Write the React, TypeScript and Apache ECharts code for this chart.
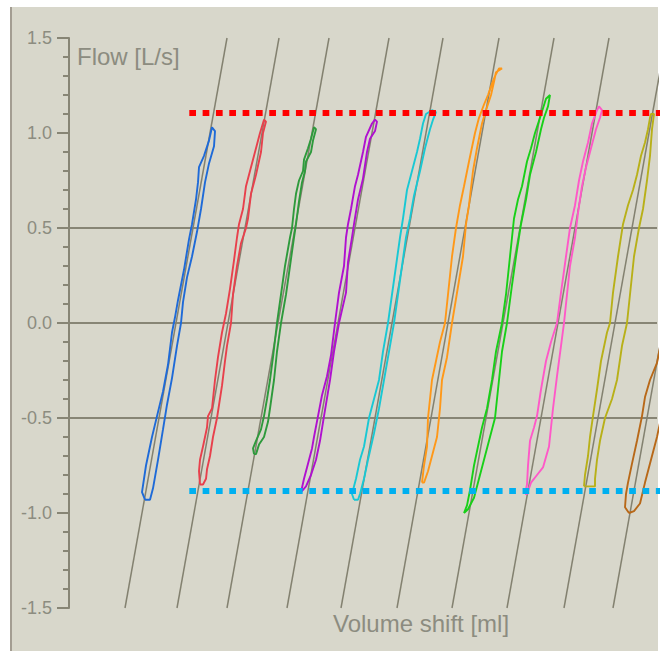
import React, { useEffect, useRef } from "react";
import * as echarts from "echarts";

// Axis ranges
const volumeRange = [0, 588];
const flowRange = [-1.5, 1.5];
const gridFlows = [0.5, 0, -0.5];

// Reference (diagonal) lines: volume at flow -1.5 and at flow 1.5
const refLineFlow = [-1.5, 1.5];
const refLineBottomX = [56, 108, 158, 218, 272, 328, 383, 438, 495, 544];
const refLineTopX = [158, 210, 260, 320, 374, 430, 485, 540, 597, 646];

// Limits (dotted)
const upperLimitFlow = 1.105;
const lowerLimitFlow = -0.884;
const limitStartX = 120.3;
const limitEndX = 591;

// Loops (volume, flow)
const blueX = [76,73,77,83,88,94,99,103,106,109,115,120,123,127,129,130,135,140,143,146,145,140,136,132,128,123,118,114,112,108,103,98,94,89,84,81,76];
const blueY = [-0.93,-0.89,-0.75,-0.6,-0.49,-0.36,-0.22,-0.05,0.03,0.12,0.28,0.44,0.52,0.65,0.74,0.82,0.88,0.96,1.03,1.01,0.93,0.84,0.74,0.6,0.48,0.35,0.24,0.11,0,-0.12,-0.29,-0.43,-0.56,-0.72,-0.87,-0.93,-0.93];

const redX = [131,130,131,134,138,139,143,146,149,153,157,161,165,168,170,174,177,181,187,191,195,197,194,192,187,182,179,177,172,168,164,162,158,156,153,148,144,141,138,137,134,131];
const redY = [-0.85,-0.78,-0.72,-0.65,-0.55,-0.49,-0.45,-0.3,-0.18,-0.05,0.05,0.18,0.33,0.45,0.52,0.6,0.72,0.8,0.92,1.0,1.07,1.06,1.0,0.9,0.78,0.68,0.55,0.5,0.42,0.3,0.15,0,-0.12,-0.2,-0.33,-0.5,-0.6,-0.7,-0.77,-0.82,-0.85,-0.85];

const greenX = [185,184,187,192,195,198,201,204,208,212,216,221,223,225,227,230,234,235,239,242,245,247,244,242,237,236,233,230,227,225,221,217,212,208,205,201,199,195,190,187,185];
const greenY = [-0.69,-0.66,-0.62,-0.56,-0.49,-0.4,-0.3,-0.18,0,0.15,0.3,0.45,0.5,0.6,0.68,0.75,0.8,0.86,0.92,0.97,1.03,1.02,0.96,0.9,0.85,0.8,0.74,0.64,0.52,0.45,0.3,0.15,0,-0.15,-0.3,-0.45,-0.52,-0.6,-0.64,-0.69,-0.69];

const purpleX = [232,235,238,243,245,249,253,258,262,266,270,275,277,279,282,286,289,294,297,303,306,308,306,301,298,294,289,285,283,279,277,270,265,261,255,251,247,242,237,232];
const purpleY = [-0.89,-0.82,-0.76,-0.66,-0.6,-0.49,-0.38,-0.28,-0.17,0,0.16,0.3,0.45,0.52,0.6,0.72,0.78,0.9,0.98,1.05,1.07,1.06,1.01,0.97,0.9,0.76,0.65,0.52,0.45,0.32,0.16,0,-0.15,-0.3,-0.49,-0.62,-0.72,-0.8,-0.86,-0.89];

const cyanX = [285,283,287,291,295,300,305,310,314,319,323,327,331,334,338,343,348,351,354,357,363,367,364,361,356,351,345,341,337,333,329,325,320,315,310,305,299,295,291,289,285];
const cyanY = [-0.93,-0.9,-0.82,-0.72,-0.65,-0.5,-0.4,-0.3,-0.15,0,0.15,0.3,0.45,0.55,0.7,0.8,0.9,0.97,1.05,1.1,1.12,1.11,1.07,1.02,0.92,0.8,0.67,0.55,0.45,0.3,0.15,0,-0.15,-0.3,-0.45,-0.58,-0.72,-0.82,-0.9,-0.93,-0.93];

const orangeX = [353,355,358,359,363,367,371,376,379,383,387,391,395,400,406,410,415,419,423,426,430,433,427,425,422,417,413,408,404,400,397,394,383,378,373,371,368,363,359,355,353];
const orangeY = [-0.84,-0.75,-0.65,-0.5,-0.3,-0.2,-0.1,0,0.15,0.35,0.5,0.62,0.72,0.85,1.0,1.08,1.15,1.2,1.26,1.3,1.34,1.34,1.32,1.27,1.2,1.12,1.05,0.92,0.8,0.62,0.52,0.35,0,-0.18,-0.3,-0.45,-0.6,-0.7,-0.78,-0.84,-0.84];

const green2X = [395,398,401,405,409,413,418,423,427,433,437,440,443,445,449,453,458,462,466,471,477,481,479,475,472,467,461,457,452,447,443,438,433,430,426,420,415,410,405,399,395];
const green2Y = [-1.0,-0.96,-0.88,-0.75,-0.65,-0.55,-0.45,-0.3,-0.15,0,0.15,0.3,0.45,0.55,0.65,0.72,0.85,0.92,1.0,1.08,1.18,1.2,1.14,1.08,1.02,0.9,0.78,0.65,0.52,0.35,0.2,0,-0.15,-0.3,-0.5,-0.62,-0.72,-0.82,-0.92,-0.98,-1.0];

const pinkX = [456,458,459,461,465,468,472,477,482,488,492,497,501,506,510,514,519,523,528,530,533,531,527,522,517,513,509,506,501,497,495,492,488,484,482,480,474,468,462,458,456];
const pinkY = [-0.9,-0.85,-0.75,-0.62,-0.55,-0.49,-0.35,-0.2,-0.1,0,0.16,0.35,0.5,0.62,0.75,0.85,0.95,1.05,1.12,1.14,1.12,1.08,1.02,0.92,0.82,0.72,0.58,0.45,0.3,0.1,0,-0.12,-0.28,-0.45,-0.55,-0.65,-0.76,-0.8,-0.84,-0.9,-0.9];

const oliveX = [515,516,519,521,524,528,532,538,541,544,549,554,559,564,568,572,576,579,581,582,585,583,581,578,574,570,565,561,558,553,548,543,536,531,528,526,526,518,515];
const oliveY = [-0.86,-0.8,-0.7,-0.6,-0.49,-0.35,-0.2,-0.05,0,0.16,0.35,0.52,0.62,0.7,0.78,0.88,0.95,1.02,1.08,1.1,1.1,1.02,0.88,0.75,0.6,0.5,0.35,0.15,0,-0.12,-0.3,-0.4,-0.5,-0.62,-0.72,-0.82,-0.86,-0.86,-0.86];

const brownX = [560,556,557,559,563,568,573,576,581,588,594,600,606,596,588,581,576,571,565,560];
const brownY = [-1.0,-0.97,-0.9,-0.84,-0.74,-0.62,-0.49,-0.39,-0.3,-0.21,-0.05,0.1,0.1,-0.4,-0.6,-0.74,-0.84,-0.95,-0.99,-1.0];

const loops = [
  { name: "Loop 1", x: blueX, y: blueY, color: "#1e6ad8" },
  { name: "Loop 2", x: redX, y: redY, color: "#e8404c" },
  { name: "Loop 3", x: greenX, y: greenY, color: "#2e9a3c" },
  { name: "Loop 4", x: purpleX, y: purpleY, color: "#b010d0" },
  { name: "Loop 5", x: cyanX, y: cyanY, color: "#18c8d4" },
  { name: "Loop 6", x: orangeX, y: orangeY, color: "#ff9818" },
  { name: "Loop 7", x: green2X, y: green2Y, color: "#18d018" },
  { name: "Loop 8", x: pinkX, y: pinkY, color: "#ff58c8" },
  { name: "Loop 9", x: oliveX, y: oliveY, color: "#b8b018" },
  { name: "Loop 10", x: brownX, y: brownY, color: "#b86818" },
];

const axisColor = "#878575";
const textColor = "#8c8c80";

export default function App() {
  const ref = useRef<HTMLDivElement>(null);
  useEffect(() => {
    if (!ref.current) return;
    const chart = echarts.init(ref.current, null, { renderer: "svg" });

    const series: any[] = [];
    gridFlows.forEach((f) => {
      series.push({
        type: "line",
        data: [[volumeRange[0], f], [volumeRange[1], f]],
        symbol: "none",
        silent: true,
        lineStyle: { color: axisColor, width: 2 },
        z: 1,
      });
    });
    refLineBottomX.forEach((bx, i) => {
      series.push({
        type: "line",
        data: [[bx, refLineFlow[0]], [refLineTopX[i], refLineFlow[1]]],
        symbol: "none",
        silent: true,
        lineStyle: { color: "#838170", width: 1.5 },
        z: 2,
      });
    });
    loops.forEach((l) => {
      series.push({
        type: "line",
        name: l.name,
        data: l.x.map((v, i) => [v, l.y[i]]),
        symbol: "none",
        silent: true,
        lineStyle: { color: l.color, width: 1.9 },
        z: 3,
      });
    });
    series.push({
      type: "line",
      data: [[limitStartX, upperLimitFlow], [limitEndX, upperLimitFlow]],
      symbol: "none",
      silent: true,
      lineStyle: { color: "#ff0000", width: 6, type: [6.7, 6.63], cap: "butt" },
      z: 4,
    });
    series.push({
      type: "line",
      data: [[limitStartX, lowerLimitFlow], [limitEndX, lowerLimitFlow]],
      symbol: "none",
      silent: true,
      lineStyle: { color: "#00b0f0", width: 6, type: [6.7, 6.63], cap: "butt" },
      z: 4,
    });

    chart.setOption({
      animation: false,
      backgroundColor: "transparent",
      grid: { left: 69, right: 3, top: 38, bottom: 43, containLabel: false },
      xAxis: { type: "value", min: volumeRange[0], max: volumeRange[1], show: false },
      yAxis: {
        type: "value",
        min: flowRange[0],
        max: flowRange[1],
        interval: 0.5,
        axisLine: { show: true, lineStyle: { color: axisColor, width: 2 } },
        axisTick: { show: true, length: 12, lineStyle: { color: axisColor, width: 2 } },
        minorTick: { show: true, splitNumber: 5, length: 6, lineStyle: { color: axisColor, width: 2 } },
        splitLine: { show: false },
        axisLabel: {
          formatter: (v: number) => v.toFixed(1),
          color: textColor,
          fontSize: 18,
          fontFamily: "Liberation Sans",
          margin: 17,
        },
      },
      graphic: [
        { type: "rect", z: -10, silent: true, shape: { x: 11, y: 7, width: 647, height: 644 }, style: { fill: "#d8d7cb" } },
        { type: "rect", z: -9, silent: true, shape: { x: 10, y: 7, width: 2, height: 644 }, style: { fill: "#a39d92" } },
        {
          type: "text", z: 10, silent: true, x: 77, y: 56,
          style: { text: "Flow [L/s]", fill: textColor, font: "24px 'Liberation Sans'", textAlign: "left", textVerticalAlign: "middle" },
        },
        {
          type: "text", z: 10, silent: true, x: 333, y: 623,
          style: { text: "Volume shift [ml]", fill: textColor, font: "24px 'Liberation Sans'", textAlign: "left", textVerticalAlign: "middle" },
        },
      ],
      series,
    });
    return () => chart.dispose();
  }, []);
  return (
    <div
      ref={ref}
      style={{ position: "absolute", left: 0, top: 0, width: 660, height: 651, background: "#ffffff" }}
    />
  );
}
